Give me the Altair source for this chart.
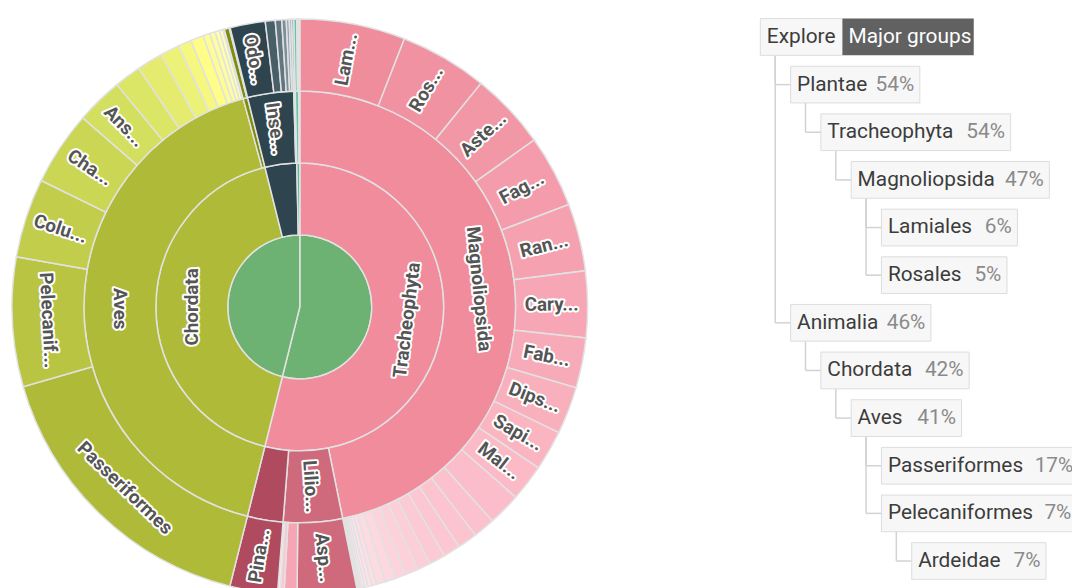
import altair as alt
import pandas as pd

# ---------------- data (shares, in degrees of the full circle) -------------
kingdom_names = ["Plantae", "Animalia"]

phylum_names = ["Tracheophyta", "Chordata", "Arthropoda", "Mollusca"]
phylum_parent = ["Plantae", "Animalia", "Animalia", "Animalia"]

class_names = ["Magnoliopsida", "Liliopsida", "Pinopsida", "Aves", "Mammalia",
               "Insecta", "Arachnida", "Gastropoda", "Bivalvia"]
class_parent = ["Tracheophyta", "Tracheophyta", "Tracheophyta", "Chordata", "Chordata",
                "Arthropoda", "Arthropoda", "Mollusca", "Mollusca"]

order_names = [
    "Lamiales", "Rosales", "Asterales", "Fagales", "Ranunculales", "Caryophyllales", "Fabales",
    "Dipsacales", "Sapindales", "Malpighiales", "Ericales", "Apiales", "Brassicales", "Gentianales",
    "Myrtales", "Saxifragales", "Geraniales", "Boraginales", "Solanales", "Cornales", "Celastrales",
    "Santalales", "Cucurbitales", "Oxalidales", "Piperales", "Vitales", "Laurales", "Nymphaeales",
    "Asparagales", "Poales", "Alismatales", "Liliales",
    "Pinales",
    "Passeriformes", "Pelecaniformes", "Columbiformes", "Charadriiformes", "Anseriformes",
    "Accipitriformes", "Piciformes", "Gruiformes", "Galliformes", "Suliformes", "Coraciiformes",
    "Strigiformes", "Apodiformes", "Cuculiformes", "Psittaciformes",
    "Carnivora", "Rodentia",
    "Odonata", "Lepidoptera", "Coleoptera", "Hymenoptera", "Hemiptera", "Diptera",
    "Araneae",
    "Stylommatophora", "Littorinimorpha",
    "Unionida",
]
order_parent = (["Magnoliopsida"] * 28 + ["Liliopsida"] * 4 + ["Pinopsida"] + ["Aves"] * 15
                + ["Mammalia"] * 2 + ["Insecta"] * 6 + ["Arachnida"] + ["Gastropoda"] * 2 + ["Bivalvia"])
order_share = [
    21.3, 17.7, 15.5, 14.6, 13.6, 13.4, 10.1, 9.6, 8.1, 7.4, 6.6, 4.4, 4.0, 3.4,
    3.3, 2.7, 2.6, 2.2, 2.1, 1.8, 1.0, 0.8, 0.6, 0.5, 0.4, 0.3, 0.2, 0.2,
    12.0, 2.6, 0.8, 0.5,
    9.6,
    59.8, 26.1, 16.0, 15.0, 9.5, 5.4, 5.2, 3.9, 2.7, 2.6, 1.4, 1.1, 0.9, 0.7, 0.3,
    1.0, 0.2,
    7.1, 2.0, 1.3, 0.9, 0.6, 0.5,
    0.4,
    0.6, 0.3,
    0.3,
]

# texts shown on the sunburst
arc_labels = {
    "Tracheophyta": "Tracheophyta", "Chordata": "Chordata",
    "Magnoliopsida": "Magnoliopsida", "Aves": "Aves", "Liliopsida": "Lilio...", "Insecta": "Inse...",
    "Lamiales": "Lam...", "Rosales": "Ros...", "Asterales": "Aste...", "Fagales": "Fag...",
    "Ranunculales": "Ran...", "Caryophyllales": "Cary...", "Fabales": "Fab...", "Dipsacales": "Dips...",
    "Sapindales": "Sapi...", "Malpighiales": "Mal...", "Asparagales": "Asp...", "Pinales": "Pina...",
    "Odonata": "Odo...", "Passeriformes": "Passeriformes", "Pelecaniformes": "Pelecanif...",
    "Columbiformes": "Colu...", "Charadriiformes": "Cha...", "Anseriformes": "Ans...",
}

# breadcrumb tree on the right
tree_labels = ["Explore", "Plantae", "Tracheophyta", "Magnoliopsida", "Lamiales", "Rosales",
               "Animalia", "Chordata", "Aves", "Passeriformes", "Pelecaniformes", "Ardeidae"]
tree_pct = ["", "54%", "54%", "47%", "6%", "5%", "46%", "42%", "41%", "17%", "7%", "7%"]
tree_depth = [0, 1, 2, 3, 4, 4, 1, 2, 3, 4, 4, 5]
tree_parent = [-1, 0, 1, 2, 3, 3, 0, 6, 7, 8, 8, 10]
header_tab = "Major groups"

# ---------------- style ----------------
CX, CY, R = 294, 299, 290
kingdom_color = "#6db173"
phylum_colors = {"Tracheophyta": "#f08c9c", "Chordata": "#afbb38", "Arthropoda": "#2e4550",
                 "Mollusca": "#4cc3a0"}
class_colors = {"Magnoliopsida": "#f08c9c", "Liliopsida": "#cf6a7c", "Pinopsida": "#b04a5e",
                "Aves": "#afbb38", "Mammalia": "#7d8d0c", "Insecta": "#2e4550", "Arachnida": "#6d8490",
                "Gastropoda": "#5cc8a8", "Bivalvia": "#9adfca"}
order_ramps = {
    "Magnoliopsida": [(0, "#f08d9d"), (9, "#fbbac6"), (27, "#fff5fa")],
    "Liliopsida": [(0, "#cf6a7c"), (1, "#f5a5b4"), (3, "#fde9ef")],
    "Pinopsida": [(0, "#b04a5e")],
    "Aves": [(0, "#afbb38"), (4, "#d3df5e"), (9, "#fdfd87"), (14, "#ffffc6")],
    "Mammalia": [(0, "#7d8d0c"), (1, "#c5d070")],
    "Insecta": [(0, "#2e4550"), (5, "#b0c0c8")],
    "Arachnida": [(0, "#6d8490")],
    "Gastropoda": [(0, "#5cc8a8"), (1, "#a8e6d4")],
    "Bivalvia": [(0, "#9adfca")],
}


def hex2rgb(h):
    h = h.lstrip("#")
    return [int(h[i:i + 2], 16) for i in (0, 2, 4)]


def rgb2hex(c):
    return "#%02x%02x%02x" % tuple(int(round(v)) for v in c)


def ramp(knots, i):
    if len(knots) == 1:
        return knots[0][1]
    for (r0, c0), (r1, c1) in zip(knots, knots[1:]):
        if i <= r1:
            t = (i - r0) / (r1 - r0) if r1 > r0 else 0
            a, b = hex2rgb(c0), hex2rgb(c1)
            return rgb2hex([a[k] + (b[k] - a[k]) * t for k in range(3)])
    return knots[-1][1]


# ---------------- hierarchy -> arcs ----------------
children = {}
for k in kingdom_names:
    children.setdefault("root", []).append(k)
for p, par in zip(phylum_names, phylum_parent):
    children.setdefault(par, []).append(p)
for c, par in zip(class_names, class_parent):
    children.setdefault(par, []).append(c)
for o, par in zip(order_names, order_parent):
    children.setdefault(par, []).append(o)
leaf_val = dict(zip(order_names, order_share))


def val(n):
    if n in leaf_val:
        return leaf_val[n]
    return sum(val(c) for c in children.get(n, []))


total = val("root")
rows = []


def place(n, start, depth, parent, rank):
    v = val(n)
    if depth == 1:
        col = kingdom_color
    elif depth == 2:
        col = phylum_colors[n]
    elif depth == 3:
        col = class_colors[n]
    else:
        col = ramp(order_ramps[parent], rank)
    mid_deg = (start + v / 2) / total * 360
    r_mid = (depth - 0.5) * R / 4
    arc_len = v / total * 6.2832 * r_mid
    if arc_len > 100:
        rot = mid_deg - 180 if 90 < mid_deg < 270 else mid_deg
    else:
        rot = mid_deg - 90 if mid_deg < 180 else mid_deg - 270
    rows.append(dict(name=n, depth=depth, start=start, end=start + v, mid=start + v / 2,
                     r0=depth - 1, r1=depth, rmid=depth - 0.5, color=col,
                     label=arc_labels.get(n, ""), rot=rot % 360))
    s = start
    for i, c in enumerate(children.get(n, [])):
        place(c, s, depth + 1, n, i)
        s += val(c)


s0 = 0
for i, k in enumerate(kingdom_names):
    place(k, s0, 1, "root", i)
    s0 += val(k)

arcs_df = pd.DataFrame(rows)
labels_df = arcs_df[arcs_df["label"] != ""]

theta_scale = alt.Scale(domain=[0, total], range=[0, 6.283185307179586])
radius_scale = alt.Scale(type="linear", domain=[0, 4], range=[0, R], zero=True)

arcs = alt.Chart(arcs_df).mark_arc(stroke="#e2e2e2", strokeWidth=1.5).encode(
    x=alt.value(CX), y=alt.value(CY),
    theta=alt.Theta("start:Q", scale=theta_scale),
    theta2="end:Q",
    radius=alt.Radius("r0:Q", scale=radius_scale),
    radius2="r1:Q",
    color=alt.Color("color:N", scale=None),
    tooltip=["name:N"],
)

LFS = 19
lab_enc = dict(
    x=alt.value(CX), y=alt.value(CY),
    theta=alt.Theta("mid:Q", scale=theta_scale, stack=False),
    radius=alt.Radius("rmid:Q", scale=radius_scale),
    angle=alt.Angle("rot:Q", scale=None),
    text="label:N",
)
halo = alt.Chart(labels_df).mark_text(
    font="Roboto", fontSize=LFS, fontWeight="bold", color="white", stroke="white",
    strokeWidth=4, strokeJoin="round", align="center", baseline="middle").encode(**lab_enc)
labels = alt.Chart(labels_df).mark_text(
    font="Roboto", fontSize=LFS, fontWeight="bold", color="#555555",
    align="center", baseline="middle").encode(**lab_enc)

# ---------------- tree layout ----------------
FS = 21
W_EM = {"A": .656, "C": .637, "E": .555, "L": .526, "M": .853, "P": .616, "R": .602, "T": .598,
        "a": .531, "c": .511, "d": .535, "e": .517, "f": .338, "g": .535, "h": .538, "i": .237,
        "j": .233, "l": .237, "m": .856, "n": .539, "o": .544, "p": .535, "r": .331, "s": .503,
        "t": .319, "u": .538, "v": .473, "x": .484, "y": .462, "%": .716, " ": .248}


def tw(s):
    return sum(W_EM.get(ch, .5615) for ch in s) * FS


TX0, TSTEP, TY0, TROW, HALF = 758, 30.5, 27, 48, 18.5
trows = []
for i, (lab, pct, d) in enumerate(zip(tree_labels, tree_pct, tree_depth)):
    x0 = TX0 + d * TSTEP
    yc = TY0 + i * TROW
    lx = x0 + 6.5
    if pct:
        px = lx + tw(lab) + (10 if d == 1 else 15)
        x1 = px + tw(pct) + 6
    else:
        px = lx
        x1 = lx + tw(lab) + 9
    trows.append(dict(label=lab, pct=pct, x0=x0, x1=x1, yc=yc, yt=yc - HALF, yb=yc + HALF,
                      lx=lx, px=px))
tree_df = pd.DataFrame(trows)

hx0 = trows[0]["x1"]
head_df = pd.DataFrame([dict(label=header_tab, x0=hx0, x1=hx0 + 6 + tw(header_tab) + 6,
                             yt=trows[0]["yt"], yb=trows[0]["yb"], yc=trows[0]["yc"], lx=hx0 + 6)])

conn = []
for i, p in enumerate(tree_parent):
    if p < 0:
        continue
    xv = trows[p]["x0"] + 15
    conn.append(dict(x=xv, x2=xv, y=trows[p]["yb"], y2=trows[i]["yc"]))
    conn.append(dict(x=xv, x2=trows[i]["x0"], y=trows[i]["yc"], y2=trows[i]["yc"]))
conn_df = pd.DataFrame(conn)

connectors = alt.Chart(conn_df).mark_rule(color="#d2d2d2", strokeWidth=1.5).encode(
    x=alt.X("x:Q", scale=None), x2="x2:Q", y=alt.Y("y:Q", scale=None), y2="y2:Q")
boxes = alt.Chart(tree_df).mark_rect(fill="#f7f7f7", stroke="#dddddd", strokeWidth=1).encode(
    x=alt.X("x0:Q", scale=None), x2="x1:Q", y=alt.Y("yt:Q", scale=None), y2="yb:Q")
box_text = alt.Chart(tree_df).mark_text(font="Roboto", fontSize=FS, color="#3c3c3c",
                                        align="left", baseline="middle").encode(
    x=alt.X("lx:Q", scale=None), y=alt.Y("yc:Q", scale=None), text="label:N")
pct_text = alt.Chart(tree_df[tree_df["pct"] != ""]).mark_text(
    font="Roboto", fontSize=FS, color="#8a8a8a", align="left", baseline="middle").encode(
    x=alt.X("px:Q", scale=None), y=alt.Y("yc:Q", scale=None), text="pct:N")
head_box = alt.Chart(head_df).mark_rect(fill="#616161").encode(
    x=alt.X("x0:Q", scale=None), x2="x1:Q", y=alt.Y("yt:Q", scale=None), y2="yb:Q")
head_text = alt.Chart(head_df).mark_text(font="Roboto", fontSize=FS, color="white",
                                         align="left", baseline="middle").encode(
    x=alt.X("lx:Q", scale=None), y=alt.Y("yc:Q", scale=None), text="label:N")

chart = alt.layer(
    arcs, halo, labels, connectors, boxes, box_text, pct_text, head_box, head_text
).properties(
    width=1072, height=580, padding=0, autosize=alt.AutoSizeParams(type="none")
).configure_view(strokeWidth=0)

chart.save("out.html", embed_options={"renderer": "svg", "actions": False})
